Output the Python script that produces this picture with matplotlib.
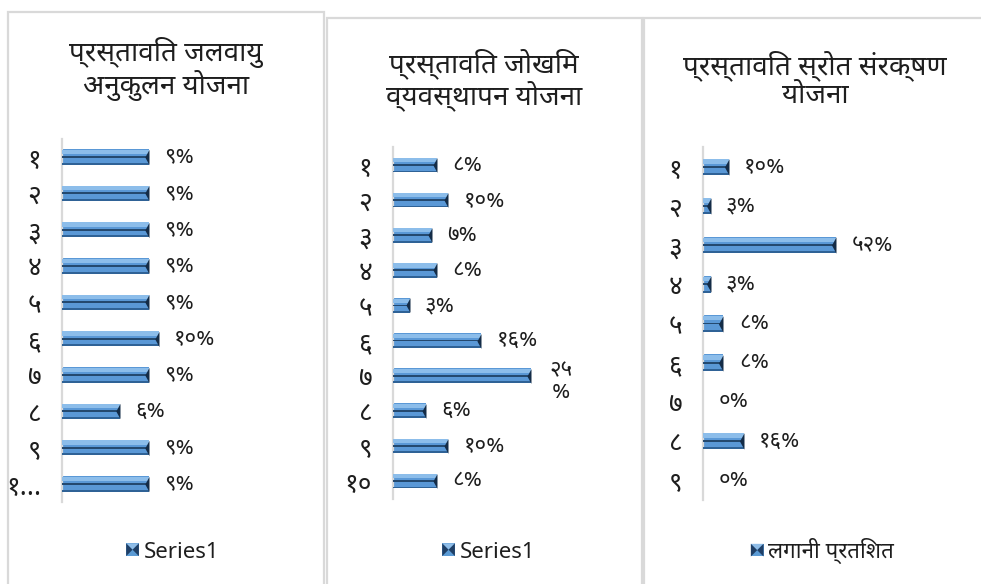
import glob, os
import matplotlib
matplotlib.use("Agg")
import matplotlib.pyplot as plt
from matplotlib import font_manager as fm
from matplotlib.patches import Rectangle, Polygon
from matplotlib.legend_handler import HandlerBase

# ---------------- data ----------------
titles = ['प्रस्तावित जलवायु\nअनुकुलन योजना',
          'प्रस्तावित जोखिम\nव्यवस्थापन योजना',
          'प्रस्तावित स्रोत संरक्षण\nयोजना']
series_names = ['Series1', 'Series1', 'लगानी प्रतिशत']

cats1 = ['१', '२', '३', '४', '५', '६', '७', '८', '९', '१…']
vals1 = [9, 9, 9, 9, 9, 10, 9, 6, 9, 9]

cats2 = ['१', '२', '३', '४', '५', '६', '७', '८', '९', '१०']
vals2 = [8, 10, 7, 8, 3, 16, 25, 6, 10, 8]

cats3 = ['१', '२', '३', '४', '५', '६', '७', '८', '९']
vals3 = [10, 3, 52, 3, 8, 8, 0, 16, 0]

# labels that Excel wrapped onto two lines (panel index, row index)
wrapped = [(1, 6)]

# ---------------- fonts ----------------
deva = None
patterns = ['NotoSansDevanagari-Regular.ttf', 'NotoSansDevanagari[[]*.ttf',
            'NotoSansDevanagariUI-Regular.ttf', 'Hind-Regular.ttf', 'Mukta-Regular.ttf']
for pat in patterns:
    hits = glob.glob('/usr/share/fonts/**/' + pat, recursive=True)
    if hits:
        fm.fontManager.addfont(hits[0])
        deva = fm.FontProperties(fname=hits[0]).get_name()
        break
FAM = ([deva] if deva else []) + ['Noto Sans', 'DejaVu Sans']
plt.rcParams['font.family'] = FAM

DEV_DIGITS = str.maketrans('0123456789', '०१२३४५६७८९')

def pct(v):
    return str(v).translate(DEV_DIGITS) + '%'

W, H = 981, 584
fig = plt.figure(figsize=(W / 100, H / 100), dpi=100)
fig.patch.set_facecolor('white')

def fx(x):
    return x / W

def fy(y):
    return 1 - y / H

TXT = '#1e1e1e'
BORDER = '#d9d9d9'

panels = [
    dict(box=(8, 12, 324, 600), ax_left=62, ax_w=250, row0=157, row1=484, ppu=9.67,
         title_xy=(166, 69), leg_xy=(172, 552)),
    dict(box=(327, 18, 642, 600), ax_left=393, ax_w=230, row0=165, row1=481, ppu=5.5,
         title_xy=(484, 80), leg_xy=(488, 552)),
    dict(box=(644, 18, 990, 600), ax_left=703, ax_w=260, row0=167, row1=480, ppu=2.56,
         title_xy=(815, 80), leg_xy=(822, 551)),
]
data = [(cats1, vals1), (cats2, vals2), (cats3, vals3)]

for p in panels:
    x0, y0, x1, y1 = p['box']
    fig.patches.append(Rectangle((fx(x0), fy(y1)), fx(x1) - fx(x0), fy(y0) - fy(y1),
                                 transform=fig.transFigure, fill=False,
                                 edgecolor=BORDER, linewidth=1.6, zorder=0))


class BevelHandler(HandlerBase):
    def create_artists(self, legend, orig_handle, xdescent, ydescent,
                       width, height, fontsize, trans):
        s = min(width, height) * 0.95
        x0 = -xdescent + (width - s)
        y0 = -ydescent + (height - s) / 2
        arts = [Rectangle((x0, y0), s, s, facecolor='#5b9bd5', edgecolor='none', transform=trans)]
        arts.append(Polygon([(x0, y0 + s), (x0 + s, y0 + s), (x0 + s / 2, y0 + s / 2)],
                            facecolor='#8fbde8', edgecolor='none', transform=trans))
        arts.append(Polygon([(x0, y0), (x0, y0 + s), (x0 + s / 2, y0 + s / 2)],
                            facecolor='#1f3f66', edgecolor='none', transform=trans))
        arts.append(Polygon([(x0 + s, y0), (x0 + s, y0 + s), (x0 + s / 2, y0 + s / 2)],
                            facecolor='#1f3f66', edgecolor='none', transform=trans))
        return arts


FS = 16
for i, (p, (cats, vals)) in enumerate(zip(panels, data)):
    n = len(cats)
    sp = (p['row1'] - p['row0']) / (n - 1)
    top = p['row0'] - sp / 2
    bot = p['row1'] + sp / 2
    ax = fig.add_axes([fx(p['ax_left']), fy(bot), p['ax_w'] / W, (bot - top) / H])
    ax.set_xlim(0, p['ax_w'] / p['ppu'])
    ax.set_ylim(n - 0.5, -0.5)
    ax.patch.set_alpha(0)
    ys = list(range(n))
    bh = 0.42
    bars = ax.barh(ys, vals, height=bh, color='#5a98d6', edgecolor='none', zorder=2,
                   label=series_names[i])
    # bevel look: light top band, dark centre line, dark bottom edge
    ax.barh([y - bh * 0.33 for y in ys], vals, height=bh * 0.28, color='#8cbdea',
            edgecolor='none', zorder=3)
    ax.barh(ys, vals, height=bh * 0.12, color='#24496f', edgecolor='none', zorder=4)
    ax.barh([y + bh * 0.44 for y in ys], vals, height=bh * 0.12, color='#2f6296',
            edgecolor='none', zorder=4)
    # dark end bevel triangles
    bh_pt = bh * sp * 0.72
    xs_nz = [v for v in vals if v > 0]
    ys_nz = [y for y, v in zip(ys, vals) if v > 0]
    ax.plot(xs_nz, ys_nz, linestyle='none',
            marker=[(0, 1), (-0.55, 0), (0, -1), (0, 1)],
            markersize=bh_pt, color='#142c47', markeredgewidth=0, zorder=5)

    ax.set_yticks(ys)
    ax.set_yticklabels(cats, fontsize=19, color=TXT)
    ax.tick_params(axis='y', length=0, pad=15)
    ax.set_xticks([])
    for s in ['top', 'right', 'bottom']:
        ax.spines[s].set_visible(False)
    ax.spines['left'].set_color('#d9d9d9')
    ax.spines['left'].set_linewidth(1.6)

    for j, (y, v) in enumerate(zip(ys, vals)):
        if (i, j) in wrapped:
            ax.annotate(str(v).translate(DEV_DIGITS) + '\n%', (v, y), xytext=(22, -4),
                        textcoords='offset points', ha='center', va='center',
                        fontsize=FS, color=TXT, linespacing=1.05)
        else:
            ax.annotate(pct(v), (v, y), xytext=(11, 0), textcoords='offset points',
                        ha='left', va='center', fontsize=FS, color=TXT)

    fig.text(fx(p['title_xy'][0]), fy(p['title_xy'][1]), titles[i], ha='center',
             va='center', fontsize=20, color=TXT, linespacing=1.05)

    lx, ly = p['leg_xy']
    fig.legend(handles=[bars], labels=[series_names[i]],
               loc='center', bbox_to_anchor=(fx(lx), fy(ly)),
               frameon=False, fontsize=FS, handler_map={type(bars): BevelHandler()},
               handlelength=0.6, handletextpad=0.2, labelcolor=TXT)

fig.savefig('out.png', dpi=100, facecolor='white')
